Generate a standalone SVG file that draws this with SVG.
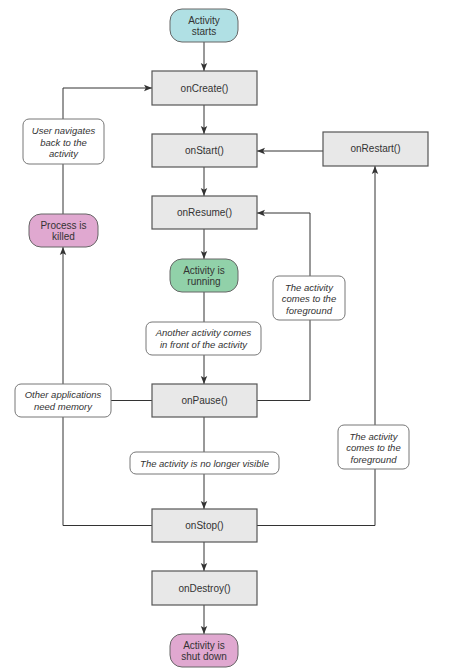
<svg xmlns="http://www.w3.org/2000/svg" width="450" height="672" viewBox="0 0 450 672">
<style>
text{font-family:"Liberation Sans",Arial,sans-serif;font-size:10px;fill:#333;text-anchor:middle}
.m{fill:#e8e8e8;stroke:#555;stroke-width:1.2}
.r{stroke:#666;stroke-width:1}
.l{fill:#fff;stroke:#777;stroke-width:1}
.i{font-style:italic;font-size:9.5px}
.c{fill:none;stroke:#333;stroke-width:1}
</style>
<defs>
<marker id="a" viewBox="0 0 8 8" refX="8" refY="4" markerWidth="8" markerHeight="8" markerUnits="userSpaceOnUse" orient="auto">
<path d="M0,0.8 L8,4 L0,7.2 L1.8,4 Z" fill="#333"/>
</marker>
</defs>
<rect width="450" height="672" fill="#fff"/>
<g id="connectors">
<path class="c" d="M204,42 V71" marker-end="url(#a)"/>
<path class="c" d="M204,105 V134" marker-end="url(#a)"/>
<path class="c" d="M204,167 V196" marker-end="url(#a)"/>
<path class="c" d="M204,229 V259" marker-end="url(#a)"/>
<path class="c" d="M204,292 V322"/>
<path class="c" d="M204,355 V384" marker-end="url(#a)"/>
<path class="c" d="M204,417 V452"/>
<path class="c" d="M204,474 V509" marker-end="url(#a)"/>
<path class="c" d="M204,542 V571" marker-end="url(#a)"/>
<path class="c" d="M204,605 V634" marker-end="url(#a)"/>
<path class="c" d="M323,151 H257" marker-end="url(#a)"/>
<path class="c" d="M310,276 V213 H257" marker-end="url(#a)"/>
<path class="c" d="M310,320 V400.5 H257"/>
<path class="c" d="M375,425 V166" marker-end="url(#a)"/>
<path class="c" d="M375,469 V525.5 H257"/>
<path class="c" d="M63,214 V164"/>
<path class="c" d="M63,119 V88 H152" marker-end="url(#a)"/>
<path class="c" d="M111,400.5 H152"/>
<path class="c" d="M63,384 V247" marker-end="url(#a)"/>
<path class="c" d="M63,417 V525.5 H152"/>
</g>
<g id="start"><rect class="r" x="170" y="9" width="68" height="33" rx="12" fill="#b0e0e4"/><text x="204" y="23.5">Activity</text><text x="204" y="35">starts</text></g>
<g id="onCreate"><rect class="m" x="152" y="71" width="105" height="34"/><text x="204.5" y="91.5">onCreate()</text></g>
<g id="onStart"><rect class="m" x="152" y="134" width="105" height="33"/><text x="204.5" y="154">onStart()</text></g>
<g id="onRestart"><rect class="m" x="323" y="132" width="105" height="34"/><text x="375.5" y="152">onRestart()</text></g>
<g id="onResume"><rect class="m" x="152" y="196" width="105" height="33"/><text x="204.5" y="216">onResume()</text></g>
<g id="running"><rect class="r" x="170" y="259" width="68" height="33" rx="12" fill="#91d1a9"/><text x="204" y="273.5">Activity is</text><text x="204" y="285">running</text></g>
<g id="onPause"><rect class="m" x="152" y="384" width="105" height="33"/><text x="204.5" y="404">onPause()</text></g>
<g id="onStop"><rect class="m" x="152" y="509" width="105" height="33"/><text x="204.5" y="529">onStop()</text></g>
<g id="onDestroy"><rect class="m" x="152" y="571" width="105" height="34"/><text x="204.5" y="591.5">onDestroy()</text></g>
<g id="shutdown"><rect class="r" x="170" y="634" width="68" height="33" rx="12" fill="#e0a8d0"/><text x="204" y="648.5">Activity is</text><text x="204" y="660">shut down</text></g>
<g id="killed"><rect class="r" x="29" y="214" width="69" height="33" rx="12" fill="#e0a8d0"/><text x="63.5" y="228.5">Process is</text><text x="63.5" y="240">killed</text></g>
<g id="lblNavigate"><rect class="l" x="23" y="119" width="81" height="45" rx="6"/><text class="i" x="63.5" y="134">User navigates</text><text class="i" x="63.5" y="145.5">back to the</text><text class="i" x="63.5" y="157">activity</text></g>
<g id="lblForeground1"><rect class="l" x="273" y="276" width="72" height="44" rx="6"/><text class="i" x="309" y="290.5">The activity</text><text class="i" x="309" y="302">comes to the</text><text class="i" x="309" y="313.5">foreground</text></g>
<g id="lblAnother"><rect class="l" x="146" y="322" width="115" height="33" rx="6"/><text class="i" x="203.5" y="336">Another activity comes</text><text class="i" x="203.5" y="347.5">in front of the activity</text></g>
<g id="lblMemory"><rect class="l" x="15" y="384" width="96" height="33" rx="6"/><text class="i" x="63" y="398">Other applications</text><text class="i" x="63" y="409.5">need memory</text></g>
<g id="lblForeground2"><rect class="l" x="338" y="425" width="71" height="44" rx="6"/><text class="i" x="373.5" y="439.5">The activity</text><text class="i" x="373.5" y="451">comes to the</text><text class="i" x="373.5" y="462.5">foreground</text></g>
<g id="lblInvisible"><rect class="l" x="130" y="452" width="149" height="22" rx="6"/><text class="i" x="204.5" y="466.5">The activity is no longer visible</text></g>
</svg>
